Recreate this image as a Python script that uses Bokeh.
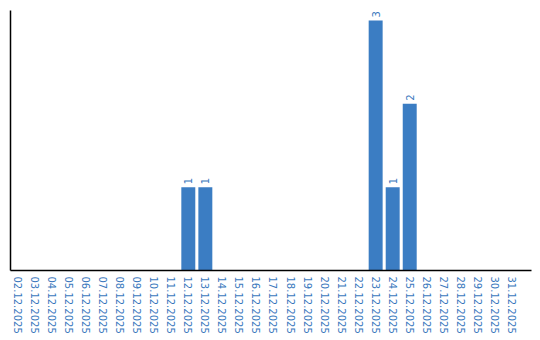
import math
from bokeh.plotting import figure
from bokeh.models import ColumnDataSource, FixedTicker, Range1d
from bokeh.core.properties import value
from bokeh.embed import file_html
from bokeh.resources import INLINE

dates = ["%02d.12.2025" % d for d in range(2, 32)]
counts = [0, 0, 0, 0, 0, 0, 0, 0, 0, 0, 1, 1, 0, 0, 0, 0, 0, 0, 0, 0, 0, 3, 1, 2, 0, 0, 0, 0, 0, 0]

BAR = "#3b7dc3"
LBL = "#3a78bd"

xs = list(range(len(dates)))
src = ColumnDataSource(dict(x=xs, top=counts))
lab = ColumnDataSource(dict(
    x=[x for x, c in zip(xs, counts) if c > 0],
    y=[c for c in counts if c > 0],
    t=[str(c) for c in counts if c > 0],
))

p = figure(width=540, height=340, output_backend="svg", toolbar_location=None,
           x_range=Range1d(-0.44, len(dates) - 0.44 + 0.59), y_range=Range1d(0, 3.12),
           min_border_left=10, min_border_right=9, min_border_top=10, min_border_bottom=70)
p.outline_line_color = None
p.grid.visible = False
p.background_fill_color = "white"
p.border_fill_color = "white"

p.vbar(x="x", top="top", width=0.82, source=src, fill_color=BAR, line_color=None)
p.text(x="x", y="y", text="t", source=lab, angle=math.pi / 2, text_align="left",
       text_baseline="middle", y_offset=-3, text_color=LBL,
       text_font=value("DejaVu Sans"), text_font_size="10px")

xa = p.xaxis[0]
xa.ticker = FixedTicker(ticks=xs)
xa.major_label_overrides = {i: d for i, d in zip(xs, dates)}
xa.major_label_orientation = "vertical"
xa.major_tick_out = 0
xa.major_tick_in = 0
xa.minor_tick_out = 0
xa.minor_tick_in = 0
xa.major_label_standoff = 6
xa.major_label_text_color = LBL
xa.major_label_text_font = "DejaVu Sans"
xa.major_label_text_font_size = "10px"
xa.axis_line_color = "black"
xa.axis_line_width = 1.5

ya = p.yaxis[0]
ya.ticker = FixedTicker(ticks=[])
ya.major_tick_out = 0
ya.major_tick_in = 0
ya.minor_tick_out = 0
ya.minor_tick_in = 0
ya.major_label_standoff = 0
ya.axis_line_color = "black"
ya.axis_line_width = 1.5

open("out.html", "w").write(file_html(p, INLINE))
